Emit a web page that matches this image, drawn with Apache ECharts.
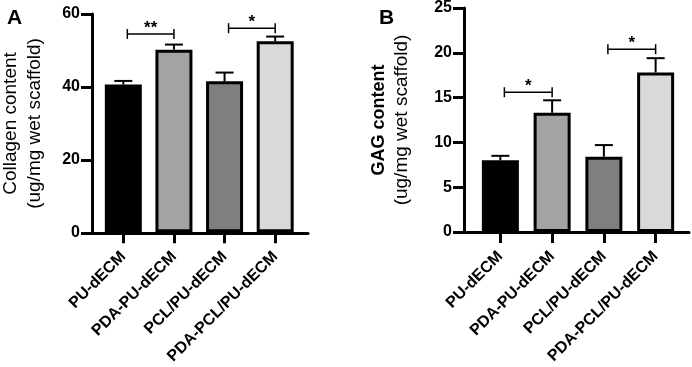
<!DOCTYPE html>
<html>
<head>
<meta charset="utf-8">
<title>Collagen and GAG content</title>
<script src="https://cdn.jsdelivr.net/npm/echarts@6/dist/echarts.min.js"></script>
<style>
  html, body { margin: 0; padding: 0; background: #fff; }
  #chart { width: 692px; height: 367px; }
</style>
</head>
<body>
<div id="chart"></div>
<script>
// groups on the x axis (same for both panels)
const categories = ['PU-dECM', 'PDA-PU-dECM', 'PCL/PU-dECM', 'PDA-PCL/PU-dECM']
const barColors = ['#000000', '#a3a3a3', '#7f7f7f', '#d9d9d9']

// panel A - collagen
const collagenMean = [40.6, 50.2, 41.5, 52.5]
const collagenSd = [1.0, 1.4, 2.4, 1.3]
const collagenAxis = { min: 0, max: 60, interval: 20 }
// significance brackets: [from, to, height]
const collagenSig = [[0, 1, 54.5], [2, 3, 56.1]]
const collagenStars = ['**', '*']

// panel B - GAG
const gagMean = [8.0, 13.3, 8.4, 17.8]
const gagSd = [0.5, 1.4, 1.3, 1.6]
const gagAxis = { min: 0, max: 25, interval: 5 }
const gagSig = [[0, 1, 15.6], [2, 3, 20.4]]
const gagStars = ['*', '*']

const FONT = 'Liberation Sans, Arial, sans-serif'

// error bar (upper only, like the prism style)
function errorBarItem(params, api) {
  const idx = api.value(0)
  const base = api.coord([idx, api.value(1)])
  const top = api.coord([idx, api.value(1) + api.value(2)])
  const cap = 9
  return {
    type: 'group',
    children: [
      { type: 'line', shape: { x1: base[0], y1: base[1], x2: top[0], y2: top[1] }, style: { stroke: '#000', lineWidth: 2 } },
      { type: 'line', shape: { x1: top[0] - cap, y1: top[1], x2: top[0] + cap, y2: top[1] }, style: { stroke: '#000', lineWidth: 2 } }
    ]
  }
}

function sigItem(stars) {
  return function (params, api) {
    const p1 = api.coord([api.value(0), api.value(2)])
    const p2 = api.coord([api.value(1), api.value(2)])
    const x1 = p1[0] + 4
    const x2 = p2[0]
    const y = p1[1]
    return {
      type: 'group',
      children: [
        { type: 'line', shape: { x1: x1, y1: y, x2: x2, y2: y }, style: { stroke: '#000', lineWidth: 1.5 } },
        { type: 'line', shape: { x1: x1, y1: y - 5, x2: x1, y2: y + 5 }, style: { stroke: '#000', lineWidth: 1.5 } },
        { type: 'line', shape: { x1: x2, y1: y - 5, x2: x2, y2: y + 5 }, style: { stroke: '#000', lineWidth: 1.5 } },
        {
          type: 'text',
          x: (x1 + x2) / 2,
          y: y + 3,
          style: { text: stars[params.dataIndex], fontSize: 17, fontWeight: 'bold', fontFamily: FONT, fill: '#000', align: 'center', verticalAlign: 'bottom' }
        }
      ]
    }
  }
}

// frame grid: y axis with ticks + long x axis line
function frameAxes(gridIndex, range, nameRich, nameGap) {
  const x = {
    gridIndex: gridIndex, type: 'value', min: 0, max: 1,
    axisLine: { show: true, onZero: false, lineStyle: { color: '#000', width: 3 } },
    axisTick: { show: false }, axisLabel: { show: false }, splitLine: { show: false }
  }
  const y = {
    gridIndex: gridIndex, type: 'value', min: range.min, max: range.max, interval: range.interval,
    axisLine: { show: true, lineStyle: { color: '#000', width: 3 } },
    axisTick: { show: true, length: 11, lineStyle: { color: '#000', width: 3 } },
    axisLabel: { margin: 12, color: '#000', fontSize: 16, fontWeight: 'bold', fontFamily: FONT },
    splitLine: { show: false },
    name: nameRich.text,
    nameLocation: 'middle',
    nameRotate: 90,
    nameGap: nameGap,
    nameTextStyle: { color: '#000', fontFamily: FONT, rich: nameRich.rich }
  }
  return { x: x, y: y }
}

// bar grid: category axis with ticks and rotated labels
function barAxes(gridIndex, range) {
  const x = {
    gridIndex: gridIndex, type: 'category', data: categories,
    axisLine: { show: false },
    axisTick: { show: true, alignWithLabel: true, length: 11, lineStyle: { color: '#000', width: 3 } },
    axisLabel: { rotate: 45, margin: 22, interval: 0, color: '#000', fontSize: 16, fontWeight: 'bold', fontFamily: FONT }
  }
  const y = { gridIndex: gridIndex, type: 'value', min: range.min, max: range.max, show: false }
  return { x: x, y: y }
}

const nameA = {
  text: '{t|Collagen content}\n{s|(ug/mg wet scaffold)}',
  rich: {
    t: { fontSize: 19, lineHeight: 25, fontFamily: FONT, color: '#000' },
    s: { fontSize: 19, lineHeight: 23, fontFamily: FONT, color: '#000' }
  }
}
const nameB = {
  text: '{t|GAG content}\n{s|(ug/mg wet scaffold)}',
  rich: {
    t: { fontSize: 18, fontWeight: 'bold', lineHeight: 22, fontFamily: FONT, color: '#000' },
    s: { fontSize: 19, lineHeight: 23, fontFamily: FONT, color: '#000' }
  }
}

const fA = frameAxes(0, collagenAxis, nameA, 46)
const bA = barAxes(1, collagenAxis)
const fB = frameAxes(2, gagAxis, nameB, 51)
const bB = barAxes(3, gagAxis)

function barData(values) {
  return values.map((v, i) => ({
    value: v,
    itemStyle: { color: barColors[i], borderColor: '#000', borderWidth: 3 }
  }))
}

const option = {
  animation: false,
  backgroundColor: '#fff',
  title: [
    { text: 'A', left: 2, top: 3, textStyle: { fontSize: 21, fontWeight: 'bold', color: '#000', fontFamily: FONT } },
    { text: 'B', left: 374, top: 3, textStyle: { fontSize: 21, fontWeight: 'bold', color: '#000', fontFamily: FONT } }
  ],
  grid: [
    { left: 89, top: 14, width: 219, height: 219 },
    { left: 98, top: 14, width: 202.5, height: 219 },
    { left: 464, top: 8, width: 225, height: 224 },
    { left: 474.5, top: 8, width: 207, height: 224 }
  ],
  xAxis: [fA.x, bA.x, fB.x, bB.x],
  yAxis: [fA.y, bA.y, fB.y, bB.y],
  series: [
    { type: 'bar', xAxisIndex: 1, yAxisIndex: 1, barWidth: 37, data: barData(collagenMean) },
    {
      type: 'custom', xAxisIndex: 1, yAxisIndex: 1, z: 3,
      renderItem: errorBarItem,
      data: collagenMean.map((v, i) => [i, v, collagenSd[i]])
    },
    {
      type: 'custom', xAxisIndex: 1, yAxisIndex: 1, z: 3,
      renderItem: sigItem(collagenStars),
      data: collagenSig
    },
    { type: 'bar', xAxisIndex: 3, yAxisIndex: 3, barWidth: 37, data: barData(gagMean) },
    {
      type: 'custom', xAxisIndex: 3, yAxisIndex: 3, z: 3,
      renderItem: errorBarItem,
      data: gagMean.map((v, i) => [i, v, gagSd[i]])
    },
    {
      type: 'custom', xAxisIndex: 3, yAxisIndex: 3, z: 3,
      renderItem: sigItem(gagStars),
      data: gagSig
    }
  ]
}

const myChart = echarts.init(document.getElementById('chart'))
myChart.setOption(option)
</script>
</body>
</html>
